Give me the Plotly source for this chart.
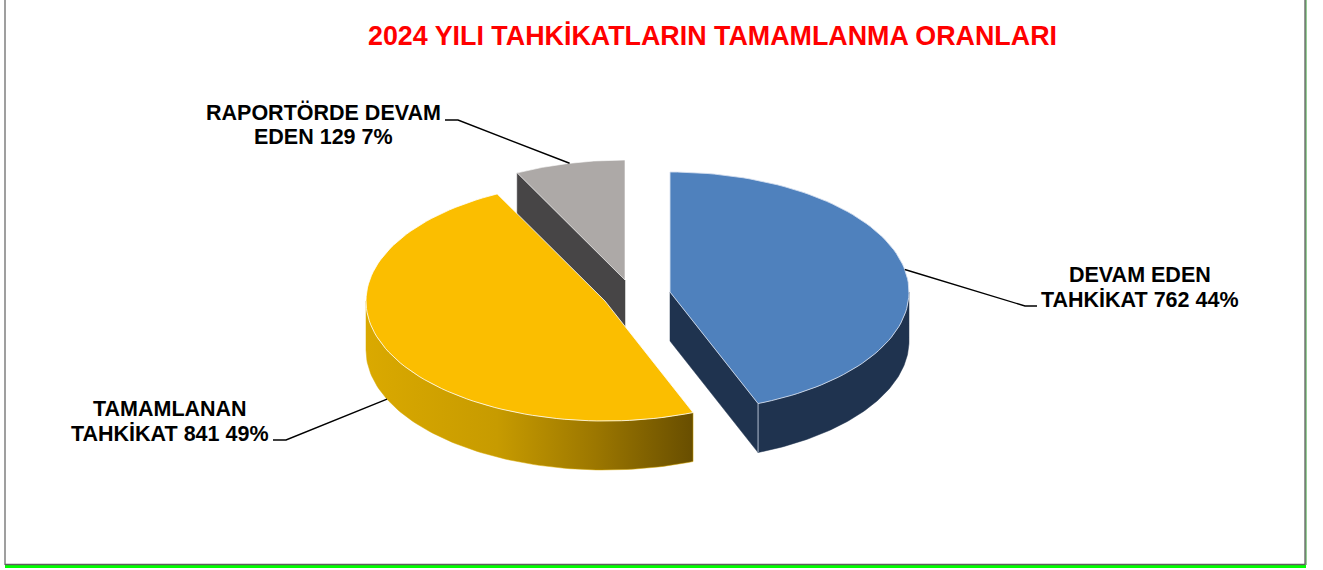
import numpy as np
import plotly.graph_objects as go

TITLE = "2024 YILI TAHKİKATLARIN TAMAMLANMA ORANLARI"
label_first_lines = ["DEVAM EDEN", "TAMAMLANAN", "RAPORTÖRDE DEVAM"]
label_second_lines = ["TAHKİKAT", "TAHKİKAT", "EDEN"]
values = [762, 841, 129]
percent_labels = ["44%", "49%", "7%"]

top_colors = ["#4F81BD", "#FBBE00", "#ADA9A7"]
wall_colors = ["#1F334F", "#D9A800", "#474546"]
rim_colors = ["rgba(215,225,240,0.85)", "rgba(255,255,255,0.8)", "rgba(255,255,255,0.6)"]

# Projection of the tilted pie into the pixel-scaled axes
RX, RY, DEPTH = 239.0, 120.0, 49.0
APEX = [(670.0, 292.0), (605.0, 301.0), (625.0, 280.0)]

total = sum(values)
edges = np.concatenate([[0.0], np.cumsum(values) / total * 360.0])


def rim(i, a0, a1, n=90, drop=0.0):
    t = np.radians(np.linspace(a0, a1, n))
    return APEX[i][0] + RX * np.sin(t), APEX[i][1] - RY * np.cos(t) + drop


fig = go.Figure()


def poly(xs, ys, fill, line=None, width=0, gradient=None):
    xs = list(xs) + [xs[0]]
    ys = list(ys) + [ys[0]]
    kw = dict(x=xs, y=ys, mode="lines", fill="toself", showlegend=False, hoverinfo="skip",
              line=dict(color=line or fill, width=width))
    if gradient:
        kw["fillgradient"] = gradient
    else:
        kw["fillcolor"] = fill
    fig.add_trace(go.Scatter(**kw))


def radial_wall(i, angle, color):
    x, y = rim(i, angle, angle, 1)
    ax, ay = APEX[i]
    poly([ax, x[0], x[0], ax], [ay, y[0], y[0] + DEPTH, ay + DEPTH], color, color, 0.5)


def top(i):
    x, y = rim(i, edges[i], edges[i + 1])
    poly(np.r_[APEX[i][0], x], np.r_[APEX[i][1], y], top_colors[i], rim_colors[i], 1)


def outer_wall(i, a0, a1, gradient=None):
    x, y = rim(i, a0, a1)
    xd, yd = rim(i, a0, a1, drop=DEPTH)
    poly(np.r_[x, xd[::-1]], np.r_[y, yd[::-1]], wall_colors[i], wall_colors[i], 0.5, gradient)


# Grey slice
radial_wall(2, edges[2], wall_colors[2])
top(2)

# Yellow slice
outer_wall(1, edges[1], 270.0, dict(
    type="horizontal",
    colorscale=[[0, "#DAA900"], [0.4, "#C79B00"], [0.7, "#9C7700"], [1, "#684E00"]],
))
top(1)

# Blue slice
radial_wall(0, edges[1], wall_colors[0])
outer_wall(0, 90.0, edges[1])
top(0)
x_b, y_b = rim(0, edges[1], edges[1], 1)
fig.add_trace(go.Scatter(x=[x_b[0], x_b[0]], y=[y_b[0], y_b[0] + DEPTH], mode="lines", showlegend=False,
                         hoverinfo="skip", line=dict(color="rgba(215,225,240,0.8)", width=1)))

# Leader lines: anchored at the middle of each slice's rim, ending at the label
elbows = [[(1025, 306), (1037, 306)], [(286, 440), (273, 440)], [(458, 120), (445, 120)]]
label_x = [1140, 170, 323]
label_y = [(275, 300), (409, 434), (112, 137)]
anchor_drop = [0.0, DEPTH, 0.0]
for i in range(3):
    mid = (edges[i] + edges[i + 1]) / 2
    x, y = rim(i, mid, mid, 1, drop=anchor_drop[i])
    xs = [x[0]] + [p[0] for p in elbows[i]]
    ys = [y[0]] + [p[1] for p in elbows[i]]
    fig.add_trace(go.Scatter(x=xs, y=ys, mode="lines", showlegend=False, hoverinfo="skip",
                             line=dict(color="#000000", width=1.4)))
    lines = [label_first_lines[i], f"{label_second_lines[i]} {values[i]} {percent_labels[i]}"]
    for line, ypos in zip(lines, label_y[i]):
        fig.add_annotation(x=label_x[i], y=ypos, xref="x", yref="y", showarrow=False,
                           text=f"<b>{line}</b>",
                           font=dict(family="Liberation Sans", size=21.5, color="#000000"))

fig.add_annotation(x=712, y=36, xref="x", yref="y", showarrow=False, text=f"<b>{TITLE}</b>",
                   font=dict(family="Liberation Sans", size=26.85, color="#FF0000"))

# Frame of the picture
shapes = [
    dict(type="rect", xref="x", yref="y", x0=5, x1=1306, y0=565, y1=568, fillcolor="#00FF00", line_width=0),
    dict(type="line", xref="x", yref="y", x0=1306, x1=1306, y0=0, y1=565, line=dict(color="#2E9E2E", width=1)),
    dict(type="line", xref="x", yref="y", x0=5, x1=5, y0=0, y1=565, line=dict(color="#7F7F7F", width=1.5)),
    dict(type="line", xref="x", yref="y", x0=1305, x1=1305, y0=0, y1=565, line=dict(color="#555555", width=1.2)),
    dict(type="line", xref="x", yref="y", x0=5, x1=1305, y0=564.5, y1=564.5, line=dict(color="#5F5F5F", width=1.5)),
]

fig.update_layout(
    width=1323, height=570, margin=dict(l=0, r=0, t=0, b=0),
    paper_bgcolor="#FFFFFF", plot_bgcolor="#FFFFFF", shapes=shapes,
    xaxis=dict(range=[0, 1323], visible=False, fixedrange=True),
    yaxis=dict(range=[570, 0], visible=False, fixedrange=True),
)
fig.write_html("out.html", config=dict(displayModeBar=False),
               post_script="document.body.style.margin='0';document.body.style.overflow='hidden';")
